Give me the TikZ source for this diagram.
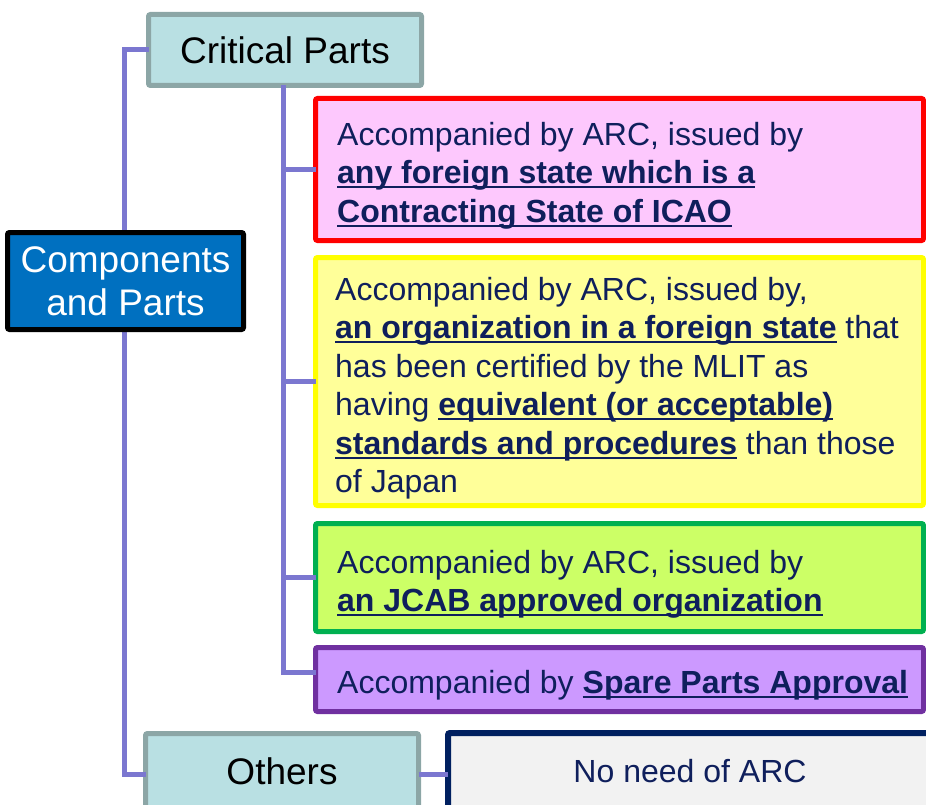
\documentclass[tikz,border=0pt]{standalone}
\usepackage{fontspec}
\setmainfont{Liberation Sans}
\definecolor{connc}{HTML}{7B77D0}
\definecolor{navyc}{HTML}{0F1F5C}
\definecolor{tealfill}{HTML}{B9E0E3}
\definecolor{tealdraw}{HTML}{8CA6A6}
\definecolor{compfill}{HTML}{0070C0}
\definecolor{pinkfill}{HTML}{FDC8FD}
\definecolor{yelfill}{HTML}{FFFF99}
\definecolor{yeldraw}{HTML}{FFFF00}
\definecolor{grnfill}{HTML}{CCFF66}
\definecolor{grndraw}{HTML}{00B050}
\definecolor{purfill}{HTML}{CC99FF}
\definecolor{purdraw}{HTML}{7030A0}
\definecolor{grayfill}{HTML}{F2F2F2}
\definecolor{navydraw}{HTML}{002060}
\newsavebox\ulbox
\newcommand\myul[1]{\sbox\ulbox{\bfseries #1}\rlap{\rule[-4.5pt]{\wd\ulbox}{2pt}}\usebox\ulbox}
\tikzset{
  conn/.style={draw=connc, line width=5pt},
  box/.style={rectangle, line width=5pt, outer sep=0pt, inner sep=0pt, rounded corners=2pt},
  bigtxt/.style={font=\fontsize{37}{43}\selectfont, align=center},
  txt/.style={font=\fontsize{32}{38.5}\selectfont, align=left, inner sep=0pt, text=navyc, anchor=north west}
}
\begin{document}
\begin{tikzpicture}[x=1pt,y=-1pt]
\useasboundingbox (0,0) rectangle (926,805);
\clip (0,0) rectangle (926,805);
% boxes
\node[box, draw=tealdraw, fill=tealfill, minimum width=273pt, minimum height=71pt, bigtxt, text=black] (crit) at (285,50) {Critical Parts};
\node[box, draw=tealdraw, fill=tealfill, minimum width=273pt, minimum height=81.5pt, anchor=north west] (oth) at (145.5,733.5) {};
\node[bigtxt, text=black, inner sep=0pt] (othtxt) at (282,771) {Others};
\node[box, draw=navydraw, line width=6pt, fill=grayfill, minimum width=490pt, minimum height=82.5pt, anchor=north west] (none) at (448,733) {};
\node[font=\fontsize{32}{38.5}\selectfont, text=navyc, inner sep=0pt] (nonetxt) at (690,771) {No need of ARC};

\node[box, draw=red, fill=pinkfill, minimum width=608pt, minimum height=142pt, anchor=north west] (red) at (315.5,98.5) {};
\node[box, draw=yeldraw, fill=yelfill, minimum width=608pt, minimum height=248pt, anchor=north west] (yel) at (315.5,257.5) {};
\node[box, draw=grndraw, fill=grnfill, minimum width=608pt, minimum height=108pt, anchor=north west] (grn) at (315.5,523.5) {};
\node[box, draw=purdraw, fill=purfill, minimum width=608pt, minimum height=64pt, anchor=north west] (pur) at (315.5,647.5) {};

% connectors
\coordinate (trunk) at ([xshift=-2pt]crit.south);
\draw[conn] (crit.west) -- ++(-24,0) |- (oth.west);
\draw[conn] (trunk) |- ([yshift=7pt]pur.west);
\draw[conn] (trunk) |- (red.west);
\draw[conn] (trunk) |- (yel.west);
\draw[conn] (trunk) |- (grn.west);
\draw[conn] (oth.east) -- (none.west);

\node[box, draw=black, fill=compfill, minimum width=236pt, minimum height=97pt, bigtxt, text=white] (comp) at (125.5,281) {Components\\and Parts};

% texts
\node[txt] (redtxt) at (337,122) {Accompanied by ARC, issued by\\\myul{any foreign state which is a}\\\myul{Contracting State of ICAO}};
\node[txt] (yeltxt) at (335,277) {Accompanied by ARC, issued by,\\\myul{an organization in a foreign state} that\\has been certified by the MLIT as\\having \myul{equivalent (or acceptable)}\\\myul{standards and procedures} than those\\of Japan};
\node[txt] (grntxt) at (337,550) {Accompanied by ARC, issued by\\\myul{an JCAB approved organization}};
\node[txt] (purtxt) at (337,670) {Accompanied by \myul{Spare Parts Approval}};
\end{tikzpicture}
\end{document}
